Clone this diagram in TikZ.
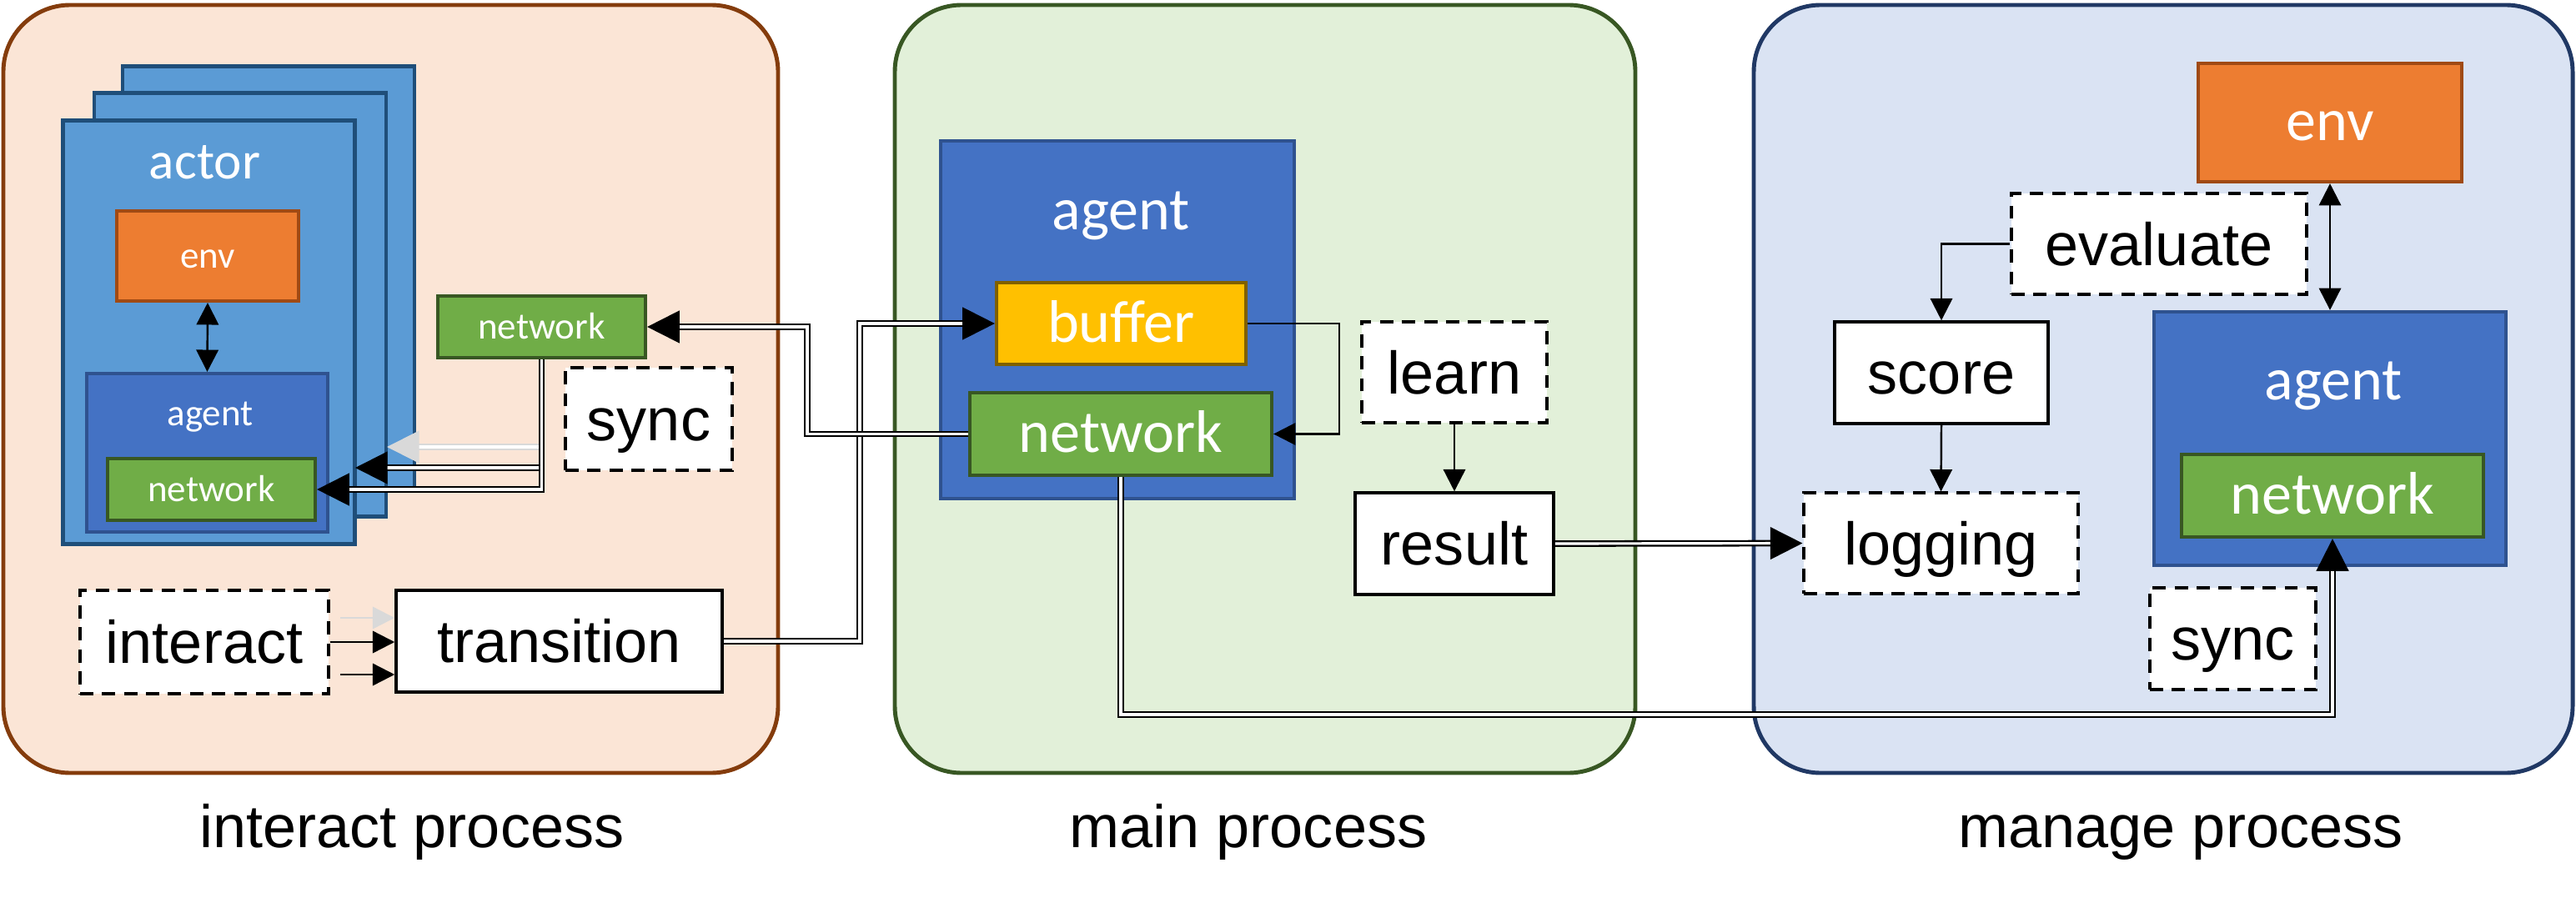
\documentclass[tikz,border=0pt]{standalone}
\usepackage{fontspec}
\setmainfont{Liberation Sans}
\newfontfamily\calibri{Carlito}
\usetikzlibrary{arrows.meta}

\definecolor{PeachFill}{HTML}{FBE5D6}
\definecolor{PeachLine}{HTML}{843C0C}
\definecolor{MintFill}{HTML}{E2F0D9}
\definecolor{MintLine}{HTML}{385723}
\definecolor{SkyFill}{HTML}{DAE3F3}
\definecolor{SkyLine}{HTML}{203864}
\definecolor{ActorBlue}{HTML}{5B9BD5}
\definecolor{ActorLine}{HTML}{1F4E79}
\definecolor{AgentBlue}{HTML}{4472C4}
\definecolor{AgentLine}{HTML}{2F528F}
\definecolor{EnvOrange}{HTML}{ED7D31}
\definecolor{EnvLine}{HTML}{A04A14}
\definecolor{NetGreen}{HTML}{70AD47}
\definecolor{NetLine}{HTML}{385723}
\definecolor{BufGold}{HTML}{FFC000}
\definecolor{BufLine}{HTML}{7F6000}
\definecolor{FadeGray}{HTML}{D9D9D9}

\newcommand{\BigTxt}{\fontsize{20.5}{24}\selectfont}
\newcommand{\SmallTxt}{\fontsize{12.8}{15}\selectfont}
\newcommand{\ActTxt}{\fontsize{18}{21}\selectfont}

\begin{document}
\begin{tikzpicture}

\tikzset{
  PanelStyle/.style = {draw, line width=1.4pt, rounded corners=0.8cm},
  BlockStyle/.style = {draw, line width=1.2pt, inner sep=0pt, text=white},
  BigWhite/.style = {font=\calibri\BigTxt, text height=0.61cm, text depth=0.17cm},
  SmallWhite/.style = {font=\calibri\SmallTxt, text height=0.38cm, text depth=0.1cm},
  TaskStyle/.style = {draw, fill=white, dash pattern=on 4.5pt off 3pt, line width=0.9pt,
                      inner sep=0pt, font=\BigTxt, text height=0.65cm, text depth=0.14cm},
  DataStyle/.style = {draw, fill=white, line width=1pt, inner sep=0pt,
                      font=\BigTxt, text height=0.65cm, text depth=0.14cm},
  EdgeStyle/.style = {line width=0.7pt, -{Triangle[length=7.5pt,width=7.5pt]}},
  PipeStyle/.style = {line width=0.65pt, double=white, double distance=0.9pt,
                      -{Triangle[length=11pt,width=11pt]}} }
  \useasboundingbox (0,0) rectangle (30.89,-10.77);

  \node[PanelStyle, fill=PeachFill, draw=PeachLine, minimum width=9.29cm, minimum height=9.21cm] (pInteract) at (4.685,-4.665) {};
  \node[PanelStyle, fill=MintFill, draw=MintLine, minimum width=8.88cm, minimum height=9.21cm] (pMain) at (15.17,-4.665) {};
  \node[PanelStyle, fill=SkyFill, draw=SkyLine, minimum width=9.82cm, minimum height=9.21cm] (pManage) at (25.94,-4.665) {};

  \node[anchor=base, font=\BigTxt] (tInteract) at (4.94,-10.16) {interact process};
  \node[anchor=base, font=\BigTxt] (tMain) at (14.97,-10.16) {main process};
  \node[anchor=base, font=\BigTxt] (tManage) at (26.15,-10.16) {manage process};

  \node[BlockStyle, fill=ActorBlue, draw=ActorLine, minimum width=3.5cm, minimum height=5.08cm] (act3) at (3.22,-3.335) {};
  \node[BlockStyle, fill=ActorBlue, draw=ActorLine, minimum width=3.5cm, minimum height=5.08cm] (act2) at (2.88,-3.655) {};
  \node[BlockStyle, fill=ActorBlue, draw=ActorLine, minimum width=3.5cm, minimum height=5.08cm] (act1) at (2.505,-3.985) {};
  \node[anchor=base, text=white, font=\calibri\ActTxt] (tActor) at (2.455,-2.15) {actor};
  \node[BlockStyle, SmallWhite, fill=EnvOrange, draw=EnvLine, minimum width=2.18cm, minimum height=1.08cm] (env1) at (2.49,-3.07) {env};
  \node[BlockStyle, fill=AgentBlue, draw=AgentLine, minimum width=2.89cm, minimum height=1.9cm] (agent1) at (2.485,-5.43) {};
  \node[anchor=base, text=white, font=\calibri\SmallTxt] (tAgent1) at (2.52,-5.1) {agent};
  \node[BlockStyle, SmallWhite, fill=NetGreen, draw=NetLine, minimum width=2.49cm, minimum height=0.74cm] (net1) at (2.535,-5.87) {network};
  \node[BlockStyle, SmallWhite, fill=NetGreen, draw=NetLine, minimum width=2.49cm, minimum height=0.74cm] (net2) at (6.495,-3.92) {network};
  \node[TaskStyle, minimum width=2cm, minimum height=1.23cm] (sync1) at (7.78,-5.025) {sync};
  \node[TaskStyle, minimum width=2.98cm, minimum height=1.24cm] (interact) at (2.45,-7.7) {interact};
  \node[DataStyle, minimum width=3.91cm, minimum height=1.22cm] (transition) at (6.705,-7.69) {transition};

  \node[BlockStyle, fill=AgentBlue, draw=AgentLine, minimum width=4.24cm, minimum height=4.29cm] (agent2) at (13.4,-3.835) {};
  \node[anchor=base, text=white, font=\calibri\BigTxt] (tAgent2) at (13.44,-2.75) {agent};
  \node[BlockStyle, BigWhite, fill=BufGold, draw=BufLine, minimum width=2.99cm, minimum height=0.98cm] (buffer) at (13.445,-3.88) {buffer};
  \node[BlockStyle, BigWhite, fill=NetGreen, draw=NetLine, minimum width=3.62cm, minimum height=0.99cm] (net3) at (13.44,-5.205) {network};
  \node[TaskStyle, minimum width=2.22cm, minimum height=1.21cm] (learn) at (17.44,-4.465) {learn};
  \node[DataStyle, minimum width=2.38cm, minimum height=1.22cm] (result) at (17.44,-6.52) {result};

  \node[BlockStyle, BigWhite, fill=EnvOrange, draw=EnvLine, minimum width=3.16cm, minimum height=1.42cm] (env2) at (27.94,-1.47) {env};
  \node[TaskStyle, minimum width=3.54cm, minimum height=1.21cm] (evaluate) at (25.89,-2.925) {evaluate};
  \node[BlockStyle, fill=AgentBlue, draw=AgentLine, minimum width=4.22cm, minimum height=3.04cm] (agent3) at (27.94,-5.26) {};
  \node[anchor=base, text=white, font=\calibri\BigTxt] (tAgent3) at (27.98,-4.79) {agent};
  \node[BlockStyle, BigWhite, fill=NetGreen, draw=NetLine, minimum width=3.62cm, minimum height=0.99cm] (net4) at (27.97,-5.945) {network};
  \node[DataStyle, minimum width=2.56cm, minimum height=1.22cm] (score) at (23.28,-4.47) {score};
  \node[TaskStyle, minimum width=3.29cm, minimum height=1.21cm] (logging) at (23.275,-6.515) {logging};
  \node[TaskStyle, minimum width=1.99cm, minimum height=1.22cm] (sync2) at (26.775,-7.66) {sync};

  \coordinate (gTip) at (4.64,-5.36);
  \coordinate (mTip) at (4.26,-5.61);
  \coordinate (iTop) at (4.08,-7.41);
  \coordinate (iBot) at (4.08,-8.09);
  \coordinate (bendA) at (10.31,0);
  \coordinate (bendB) at (9.68,0);
  \coordinate (bendC) at (16.06,0);
  \coordinate (bendD) at (20,-8.57);

  \draw[EdgeStyle, {Triangle[length=7.5pt,width=7.5pt]}-{Triangle[length=7.5pt,width=7.5pt]}] (env1.south) -- (agent1.north);
  \draw[PipeStyle, draw=FadeGray] (net2.south) |- (gTip);
  \draw[PipeStyle] (net2.south) |- (mTip);
  \draw[PipeStyle] (net2.south) |- (net1.east);
  \draw[EdgeStyle, draw=FadeGray] (iTop) -- (transition.west |- iTop);
  \draw[EdgeStyle] (interact.east) -- (transition.west |- interact.east);
  \draw[EdgeStyle] (iBot) -- (transition.west |- iBot);

  \draw[PipeStyle] (transition.east) -- (transition.east -| bendA) |- (buffer.west);
  \draw[PipeStyle] (net3.west) -- (net3.west -| bendB) |- (net2.east);
  \draw[EdgeStyle] (buffer.east) -- (buffer.east -| bendC) |- (net3.east);
  \draw[EdgeStyle] (learn.south) -- (result.north);
  \draw[PipeStyle] (net3.south) -- (net3.south |- bendD) -| (net4.south);
  \draw[PipeStyle] (result.east) -- (logging.west);

  \draw[EdgeStyle] (evaluate.west) -| (score.north);
  \draw[EdgeStyle] (score.south) -- (logging.north);
  \draw[EdgeStyle, {Triangle[length=7.5pt,width=7.5pt]}-{Triangle[length=7.5pt,width=7.5pt]}] (env2.south) -- (agent3.north);

\end{tikzpicture}
\end{document}
